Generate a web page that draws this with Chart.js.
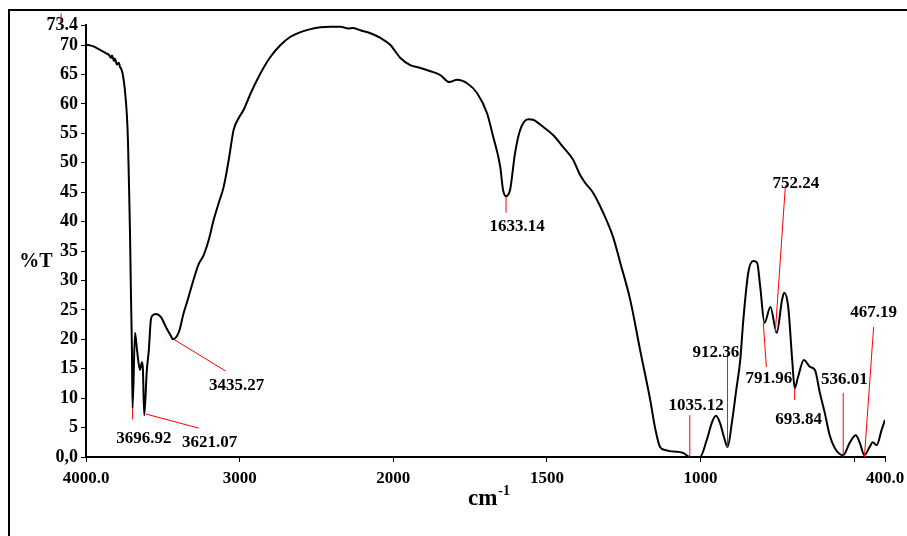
<!DOCTYPE html>
<html>
<head>
<meta charset="utf-8">
<title>Espectro IR</title>
<script src="https://cdn.jsdelivr.net/npm/chart.js@4.4.1/dist/chart.umd.min.js"></script>
<style>
  body { margin: 0; background: #fff; }
  canvas { display: block; }
</style>
</head>
<body>
<canvas id="irChart" width="907" height="536"></canvas>
<script>
const wavenumbers = [
  4000, 3955, 3903, 3870, 3850, 3838, 3831, 3818, 3812, 3799, 3786, 3779, 3770, 3760, 3747, 3734,
  3727, 3721, 3714, 3708, 3701, 3696.92, 3681, 3668, 3649, 3636, 3630, 3621.07, 3604, 3591, 3578,
  3565, 3545, 3513, 3480, 3448, 3435.27, 3396, 3364, 3338, 3305, 3266, 3234, 3201, 3169, 3136,
  3104, 3071, 3039, 3006, 2974, 2928, 2864, 2799, 2734, 2669, 2604, 2539, 2474, 2409, 2344, 2292,
  2266, 2214, 2149, 2084, 2019, 1977, 1945, 1912, 1870, 1847, 1818, 1792, 1760, 1727, 1695, 1675,
  1652, 1643, 1633.14, 1620, 1604, 1587, 1561, 1545, 1513, 1480, 1448, 1415, 1392, 1376, 1350,
  1317, 1285, 1262, 1229, 1197, 1164, 1148, 1132, 1115, 1099, 1077, 1057, 1035.12, 1002, 980, 963,
  950, 937, 924, 912.36, 897, 884, 871, 861, 845, 829, 816, 806, 791.96, 773, 752.24, 735, 728,
  715, 702, 693.84, 683, 664, 644, 628, 612, 596, 580, 563, 536.01, 515, 495, 482, 467.19, 450,
  440, 427, 411, 400
];
const transmittance = [
  70.1, 69.8, 69.1, 68.6, 68.3, 67.8, 68.2, 67.3, 67.7, 66.7, 67.0, 66.3, 65.9, 64.9, 62.4, 58.1,
  53.8, 47.1, 38.6, 28.4, 18.2, 8.3, 21.1, 18.2, 14.8, 16.1, 15.1, 7.1, 14.8, 18.2, 23.3,
  24.1, 24.3, 23.8, 22.1, 20.6, 20.0, 21.2, 24.5, 26.7, 29.7, 32.8, 34.3, 36.9, 40.3, 43.2,
  45.9, 50.5, 55.6, 57.6, 59.0, 61.8, 65.2, 68.0, 70.0, 71.4, 72.2, 72.7, 73.0, 73.1, 73.1, 72.8,
  72.9, 72.5, 72.0, 71.2, 70.0, 67.8, 66.6, 66.1, 65.4, 64.9, 63.7, 64.1, 63.5, 61.8, 58.4, 54.4,
  49.3, 45.4, 44.3, 45.4, 51.6, 55.6, 57.4, 57.3, 56.1, 54.7, 52.7, 50.5, 47.9, 46.6, 44.9,
  41.5, 37.4, 33.1, 26.7, 18.2, 9.7, 4.9, 1.7, 1.2, 1.0, 0.9, 0.7, 0.0, 0.0, 2.9, 5.9,
  7.0, 5.8, 3.4, 1.7, 6.3, 11.4, 16.5, 23.3, 31.3, 33.3, 33.0, 28.9, 22.8, 25.5, 21.1, 26.7, 27.9,
  25.5, 16.5, 11.7, 13.6, 16.5, 15.3, 14.8, 10.9, 7.5, 3.7, 1.5, 0.3, 2.4, 3.7, 2.4, 0.3, 1.7,
  2.5, 2.0, 4.6, 6.3
];

const xTickValues = [4000, 3000, 2000, 1500, 1000, 500, 400];
const xTickLabels = ['4000.0', '3000', '2000', '1500', '1000', '', '400.0'];
const yTickValues = [0, 5, 10, 15, 20, 25, 30, 35, 40, 45, 50, 55, 60, 65, 70, 73.4];
const yTickLabels = ['0,0', '5', '10', '15', '20', '25', '30', '35', '40', '45', '50', '55', '60', '65', '70', '73.4'];

// Picos marcados: texto, linha vermelha (de / ate) e centro do texto, em coordenadas do grafico
const peakMarks = [
  { text: '3696.92', from: [3696.92, 8.3], to: [3696.92, 6.4], at: [3623, 3.2] },
  { text: '3621.07', from: [3610, 7.3], to: [3266, 4.9], at: [3195, 2.5] },
  { text: '3435.27', from: [3429, 20.0], to: [3091, 14.6], at: [3019, 12.2] },
  { text: '1633.14', from: [1633.14, 44.2], to: [1633.14, 41.5], at: [1597, 39.1] },
  { text: '1035.12', from: [1035.12, 7.1], to: [1035.12, 0], at: [1015, 8.8] },
  { text: '912.36', from: [912.36, 17.7], to: [912.36, 1.7], at: [950, 17.8] },
  { text: '791.96', from: [796, 22.8], to: [786, 15.3], at: [778, 13.3] },
  { text: '752.24', from: [757, 21.1], to: [724, 46.2], at: [690, 46.4] },
  { text: '693.84', from: [694, 11.7], to: [694, 9.7], at: [681, 6.3] },
  { text: '536.01', from: [536, 10.9], to: [536, 0], at: [532, 13.1] },
  { text: '467.19', from: [437, 22.1], to: [467, 0], at: [437, 24.5] },
  { text: '', from: [4162, 75.4], to: [4162, 73.9], at: [4162, 75] }
];

const fontFamily = "'Liberation Serif', 'Times New Roman', serif";

// Eixo do espectro: escala dobrada abaixo de 2000 cm-1
function irDecimal(v) {
  return v >= 2000 ? (4000 - v) / 5200 : (2000 + 2 * (2000 - v)) / 5200;
}
class IrScale extends Chart.LinearScale {
  getPixelForValue(value) {
    return this.getPixelForDecimal(irDecimal(value));
  }
  getValueForPixel(pixel) {
    const d = this.getDecimalForPixel(pixel) * 5200;
    return d <= 2000 ? 4000 - d : 2000 - (d - 2000) / 2;
  }
}
IrScale.id = 'ir';
Chart.register(IrScale);

const decoracao = {
  id: 'decoracao',
  beforeDraw(chart) {
    const ctx = chart.ctx;
    ctx.save();
    ctx.fillStyle = '#fff';
    ctx.fillRect(0, 0, chart.width, chart.height);
    ctx.strokeStyle = '#000';
    ctx.lineWidth = 2;
    ctx.beginPath();
    ctx.moveTo(9, chart.height);
    ctx.lineTo(9, 10);
    ctx.lineTo(chart.width, 10);
    ctx.stroke();
    ctx.restore();
  },
  afterDraw(chart) {
    const ctx = chart.ctx;
    const xs = chart.scales.x;
    const ys = chart.scales.y;
    ctx.save();
    // linhas e textos dos picos
    ctx.strokeStyle = '#ff0000';
    ctx.lineWidth = 1;
    ctx.fillStyle = '#000';
    ctx.font = 'bold 17px ' + fontFamily;
    ctx.textAlign = 'center';
    ctx.textBaseline = 'middle';
    peakMarks.forEach(p => {
      ctx.beginPath();
      ctx.moveTo(xs.getPixelForValue(p.from[0]), ys.getPixelForValue(p.from[1]));
      ctx.lineTo(xs.getPixelForValue(p.to[0]), ys.getPixelForValue(p.to[1]));
      ctx.stroke();
      if (p.text) {
        ctx.fillText(p.text, xs.getPixelForValue(p.at[0]), ys.getPixelForValue(p.at[1]));
      }
    });
    // titulos dos eixos
    ctx.font = 'bold 20px ' + fontFamily;
    ctx.fillText('%T', 36, 262);
    ctx.textAlign = 'left';
    ctx.textBaseline = 'alphabetic';
    ctx.font = 'bold 23px ' + fontFamily;
    ctx.fillText('cm', 468, 505);
    const w = ctx.measureText('cm').width;
    ctx.font = 'bold 14px ' + fontFamily;
    ctx.fillText('-1', 468 + w + 1, 495);
    ctx.restore();
  }
};

const tickFont = { family: fontFamily, size: 17, weight: 'bold' };

new Chart(document.getElementById('irChart').getContext('2d'), {
  type: 'line',
  data: {
    datasets: [{
      label: '%T',
      data: wavenumbers.map((wn, i) => ({ x: wn, y: transmittance[i] })),
      borderColor: '#000',
      borderWidth: 2,
      pointRadius: 0,
      fill: false,
      cubicInterpolationMode: 'monotone'
    }]
  },
  options: {
    responsive: false,
    animation: false,
    events: [],
    layout: { padding: { left: 10, right: 22, top: 25, bottom: 0 } },
    plugins: {
      legend: { display: false },
      tooltip: { enabled: false }
    },
    scales: {
      x: {
        type: 'ir',
        min: 400,
        max: 4000,
        afterBuildTicks: axis => { axis.ticks = xTickValues.map(v => ({ value: v })); },
        afterFit: axis => {
          axis.height = 79;
          axis.paddingLeft = 0;
          axis.paddingRight = 0;
        },
        ticks: {
          autoSkip: false,
          maxRotation: 0,
          padding: 6,
          color: '#000',
          font: tickFont,
          callback: (value, i) => xTickLabels[i]
        },
        grid: { drawOnChartArea: false, drawTicks: true, tickLength: 5, color: '#000' },
        border: { display: true, color: '#000', width: 2 }
      },
      y: {
        type: 'linear',
        min: 0,
        max: 73.4,
        afterBuildTicks: axis => { axis.ticks = yTickValues.map(v => ({ value: v })); },
        afterFit: axis => { axis.width = 76; },
        ticks: {
          autoSkip: false,
          padding: 3,
          color: '#000',
          font: { family: fontFamily, size: 18, weight: 'bold' },
          callback: (value, i) => yTickLabels[i]
        },
        grid: { drawOnChartArea: false, drawTicks: true, tickLength: 5, color: '#000' },
        border: { display: true, color: '#000', width: 2 }
      }
    }
  },
  plugins: [decoracao]
});
</script>
</body>
</html>
